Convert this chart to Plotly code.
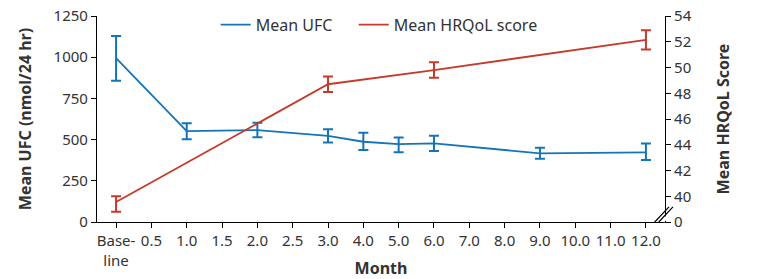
import plotly.graph_objects as go

# Tick labels along the (evenly spaced) x axis
x_ticks = ["Base-<br>line", "0.5", "1.0", "1.5", "2.0", "2.5", "3.0", "4.0", "5.0",
           "6.0", "7.0", "8.0", "9.0", "10.0", "11.0", "12.0"]

# Mean UFC (left axis)
ufc_months = ["Base-<br>line", "1.0", "2.0", "3.0", "4.0", "5.0", "6.0", "9.0", "12.0"]
ufc_mean = [995, 552, 558, 522, 487, 473, 477, 417, 423]
ufc_upper = [1129, 599, 603, 563, 542, 512, 524, 451, 477]
ufc_lower = [857, 502, 514, 483, 437, 423, 431, 384, 376]

# Mean HRQoL score (right axis)
hrq_months = ["Base-<br>line", "3.0", "6.0", "12.0"]
hrq_mean = [39.55, 48.7, 49.8, 52.15]
hrq_upper = [40.0, 49.3, 50.4, 52.9]
hrq_lower = [38.8, 48.1, 49.2, 51.4]

# Right axis ticks (broken axis: "0" label sits at the bottom)
y2_tickvals = [38.0, 40, 42, 44, 46, 48, 50, 52, 54]
y2_ticktext = ["0", "40", "42", "44", "46", "48", "50", "52", "54"]

BLUE = "#1574b8"
RED = "#c43b2b"
FONT = "Noto Sans"
TXT = "#333333"
TICK = 15
TITLE = 16

ux = [x_ticks.index(m) for m in ufc_months]
hx = [x_ticks.index(m) for m in hrq_months]

fig = go.Figure()
fig.add_trace(go.Scatter(
    x=ux, y=ufc_mean, mode="lines", name="Mean UFC", legend="legend",
    line=dict(color=BLUE, width=1.8),
    error_y=dict(type="data", symmetric=False,
                 array=[u - m for u, m in zip(ufc_upper, ufc_mean)],
                 arrayminus=[m - l for m, l in zip(ufc_mean, ufc_lower)],
                 color=BLUE, thickness=2, width=5),
))
fig.add_trace(go.Scatter(
    x=hx, y=hrq_mean, mode="lines", name="Mean HRQoL score", yaxis="y2",
    legend="legend2",
    line=dict(color=RED, width=1.8),
    error_y=dict(type="data", symmetric=False,
                 array=[u - m for u, m in zip(hrq_upper, hrq_mean)],
                 arrayminus=[m - l for m, l in zip(hrq_mean, hrq_lower)],
                 color=RED, thickness=2, width=5),
))

leg_common = dict(orientation="h", y=1.04, xanchor="left", yanchor="top",
                  bgcolor="rgba(0,0,0,0)", font=dict(size=16, color=TXT),
                  itemwidth=30)

fig.update_layout(
    width=769, height=279,
    margin=dict(l=97, r=104, t=16, b=57, autoexpand=False),
    paper_bgcolor="white", plot_bgcolor="white",
    font=dict(family=FONT, size=TICK, color=TXT),
    showlegend=True,
    legend=dict(x=0.209, **leg_common),
    legend2=dict(x=0.452, **leg_common),
    xaxis=dict(range=[-0.54, 15.54], tickmode="array", automargin=False,
               tickvals=list(range(len(x_ticks))), ticktext=x_ticks,
               showline=True, linecolor="black", linewidth=1.2,
               ticks="outside", ticklen=5, tickcolor="black",
               showgrid=False, zeroline=False,
               tickfont=dict(size=TICK, color=TXT),
               title=dict(text="<b>Month</b>", standoff=4,
                          font=dict(size=TITLE, color=TXT))),
    yaxis=dict(range=[0, 1250], tickvals=[0, 250, 500, 750, 1000, 1250],
               automargin=False,
               showline=True, linecolor="black", linewidth=1.2,
               ticks="outside", ticklen=5, tickcolor="black",
               showgrid=False, zeroline=False,
               tickfont=dict(size=TICK, color=TXT),
               title=dict(text="<b>Mean UFC (nmol/24 hr)</b>", standoff=17,
                          font=dict(size=TITLE, color=TXT))),
    yaxis2=dict(range=[38.0, 54], overlaying="y", side="right",
                automargin=False,
                tickmode="array", tickvals=y2_tickvals, ticktext=y2_ticktext,
                showline=True, linecolor="black", linewidth=1.2,
                ticks="outside", ticklen=5, tickcolor="black",
                showgrid=False, zeroline=False,
                tickfont=dict(size=TICK, color=TXT),
                title=dict(text="<b>Mean HRQoL Score</b>", standoff=27,
                           font=dict(size=TITLE, color=TXT))),
)

# Axis-break marks on the right axis
fig.add_shape(type="path", xref="paper", yref="paper",
              path="M 0.998 0.015 L 1.012 0.075 L 1.012 0.045 L 0.998 -0.005 Z",
              fillcolor="white", line=dict(width=0), layer="above")
for dx in (0.0, 0.007):
    fig.add_shape(type="line", xref="paper", yref="paper",
                  x0=0.982 + dx, y0=0.0, x1=1.007 + dx, y1=0.073,
                  line=dict(color="black", width=1.2), layer="above")

fig.write_html("out.html", config={"displayModeBar": False},
               post_script="document.body.style.margin='0';")
